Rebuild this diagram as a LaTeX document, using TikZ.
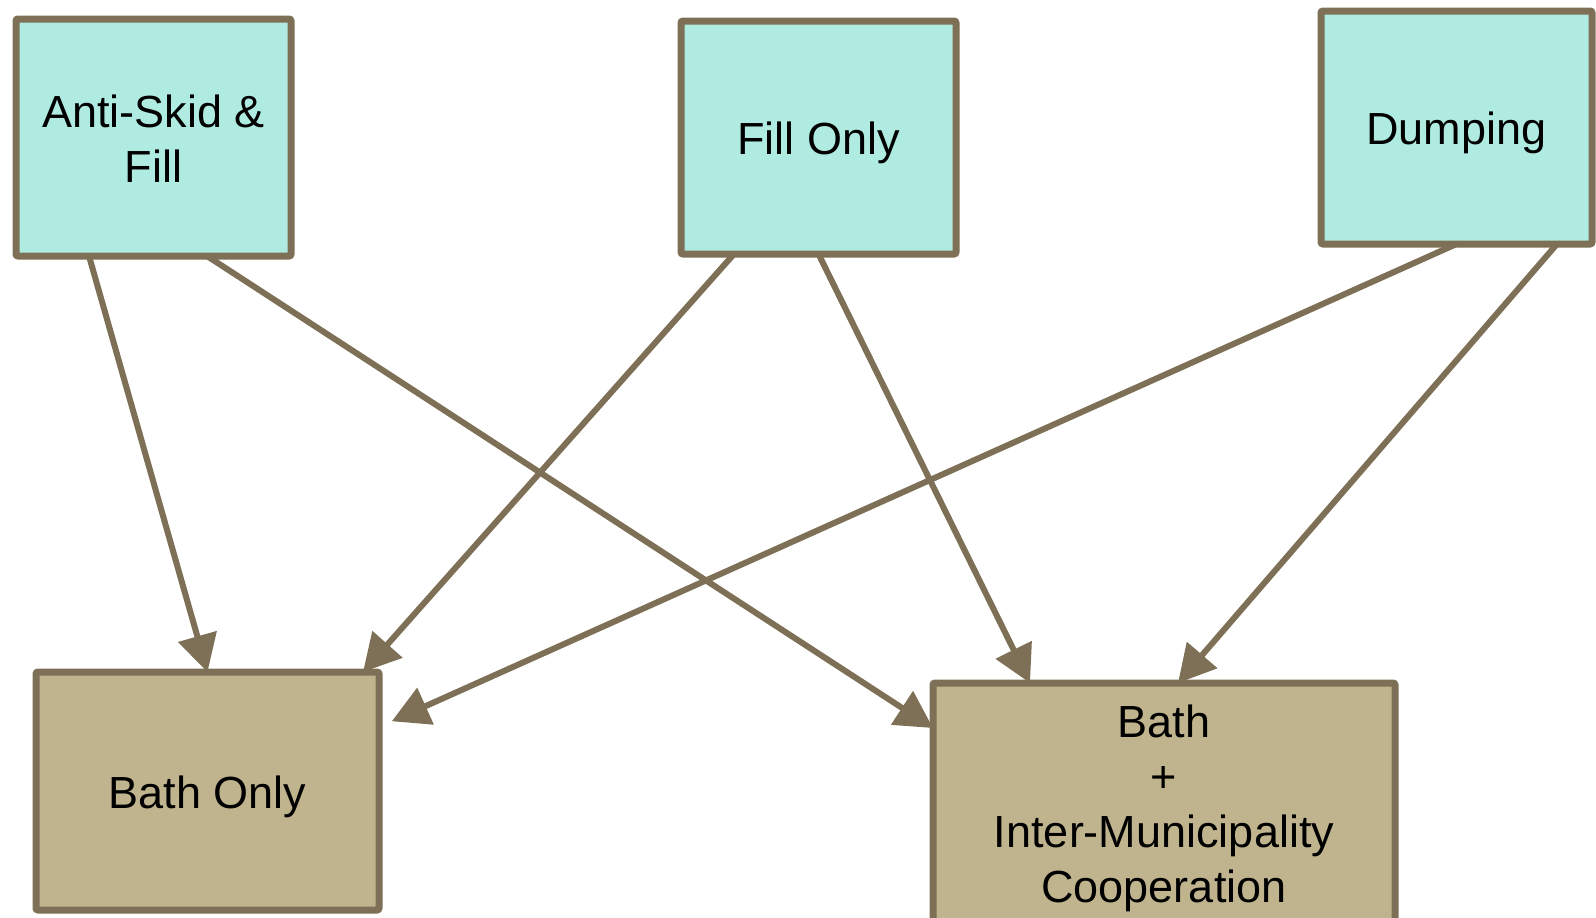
\documentclass[tikz,border=0pt]{standalone}
\usepackage{fontspec}
\setmainfont{Liberation Sans}
\usetikzlibrary{arrows.meta}
\definecolor{edgebrown}{RGB}{125,112,86}
\definecolor{srcfill}{RGB}{175,235,224}
\definecolor{dstfill}{RGB}{192,180,142}
% centred label block, lowered a little without changing its reported size
\newcommand{\lbl}[2]{\raisebox{-#1}[\height][\depth]{\begin{tabular}{@{}c@{}}#2\end{tabular}}}
\begin{document}
\begin{tikzpicture}[x=1pt,y=-1pt,
  box/.style={draw=edgebrown, line width=7pt, rounded corners=2pt,
    font=\fontsize{45pt}{55pt}\selectfont, inner sep=0pt, outer sep=0pt},
  srcbox/.style={box, fill=srcfill},
  dstbox/.style={box, fill=dstfill},
  link/.style={draw=edgebrown, line width=6pt,
    -{Triangle[length=37pt,width=39pt]}}]
\useasboundingbox (0,0) rectangle (1596,918);

% source boxes
\node[srcbox, minimum width=275pt, minimum height=237pt] (as) at (153.5,137.5) {\lbl{6pt}{Anti-Skid \&\\Fill}};
\node[srcbox, minimum width=275pt, minimum height=233pt] (fo) at (818.5,137.5) {\lbl{6pt}{Fill Only}};
\node[srcbox, minimum width=271pt, minimum height=233pt] (dp) at (1456.5,127.5) {\lbl{6pt}{Dumping}};

% target boxes
\node[dstbox, minimum width=343pt, minimum height=238pt] (bo) at (207.5,791) {\lbl{6pt}{Bath Only}};
\node[dstbox, minimum width=462pt, minimum height=244pt] (bi) at (1164,805) {\lbl{4pt}{Bath\\+\\Inter-Municipality\\Cooperation}};

% connectors
\draw[link] ([xshift=73pt]as.south west) -- (bo.north);
\draw[link] ([xshift=191pt]as.south west) -- ([yshift=-45pt]bi.north west);
\draw[link] ([xshift=53pt]fo.south west) -- ([xshift=-16pt]bo.north east);
\draw[link] (fo.south) -- ([xshift=97pt]bi.north west);
\draw[link, shorten >=14pt] (dp.south) -- ([yshift=-55pt]bo.north east);
\draw[link] ([xshift=236pt]dp.south west) -- ([xshift=245pt]bi.north west);
\end{tikzpicture}
\end{document}
